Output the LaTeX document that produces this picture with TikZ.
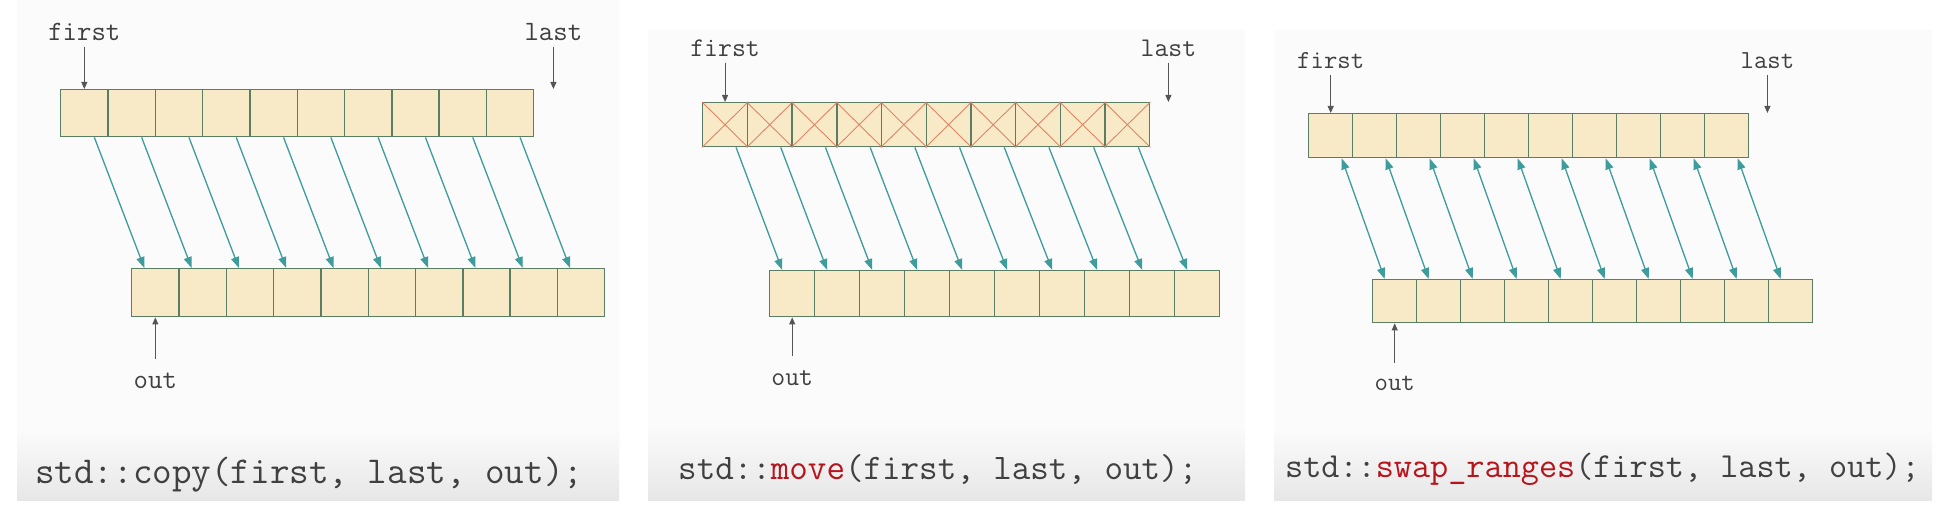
\documentclass[tikz,border=0pt]{standalone}
\usepackage{xcolor}
\usepackage{tikz}
\usetikzlibrary{arrows.meta,positioning}
\definecolor{panelbg}{HTML}{FAFBFA}
\definecolor{capgrey}{HTML}{E7E7E7}
\definecolor{cellfill}{HTML}{F8EAC7}
\definecolor{celledge}{HTML}{5A7D63}
\definecolor{crossred}{HTML}{E08468}
\definecolor{arrowteal}{HTML}{3E9C9C}
\definecolor{ptrgrey}{HTML}{555555}
\definecolor{txtgrey}{HTML}{404040}
\definecolor{fnred}{HTML}{B8141C}
\newcommand{\fn}[1]{\textcolor{fnred}{#1}}
\newcommand{\lblsize}[1]{\ttfamily\fontsize{#1}{#1}\selectfont}

\begin{document}
\begin{tikzpicture}[
  x=1pt,y=-1pt,
  font=\ttfamily,
  cell/.style={draw=celledge,fill=cellfill,line width=1.4pt,inner sep=0pt,anchor=north west},
  lbl/.style={text=txtgrey,inner sep=6pt},
  ptr/.style={-{Triangle[length=7pt,width=6pt]},ptrgrey,line width=1pt},
  cp/.style={-{Triangle[length=11pt,width=8pt]},arrowteal,line width=1.3pt},
  sw/.style={cp,{Triangle[length=11pt,width=8pt]}-{Triangle[length=11pt,width=8pt]}},
  xmark/.style={crossred,line width=0.9pt},
  captxt/.style={anchor=base west,text=txtgrey,inner sep=0pt}
]
\useasboundingbox (0,0) rectangle (1945,513);

% panel backgrounds with caption bars
\fill[panelbg] (17,0) rectangle (619,430);
\shade[top color=panelbg,bottom color=capgrey] (17,430) rectangle (619,500);
\fill[panelbg] (648,30) rectangle (1245,425);
\shade[top color=panelbg,bottom color=capgrey] (648,425) rectangle (1245,500);
\fill[panelbg] (1274,30) rectangle (1932,430);
\shade[top color=panelbg,bottom color=capgrey] (1274,430) rectangle (1932,500);

% copy
\foreach \i in {0,...,9} {
  \node[cell,minimum width=47.3pt,minimum height=47pt] (a1-\i) at (60+\i*47.3,89) {};
  \node[cell,minimum width=47.3pt,minimum height=48pt] (b1-\i) at (131+\i*47.3,268) {};
}
\foreach \i in {0,...,9}
  \draw[cp] ([xshift=10pt]a1-\i.south) -- ([xshift=-11pt]b1-\i.north);
\coordinate (end1) at ([xshift=19pt]a1-9.north east);
\node[lbl,font=\lblsize{28}] (first1) at (a1-0 |- 0,32) {first};
\node[lbl,font=\lblsize{28}] (last1) at (end1 |- 0,32) {last};
\node[lbl,outer sep=8pt,font=\lblsize{28}] (out1) at (b1-0 |- 0,381) {out};
\draw[ptr] (first1) -- (a1-0);
\draw[ptr] (last1) -- (end1);
\draw[ptr] (out1) -- (b1-0);
\node[captxt,font=\lblsize{38}] (cap1) at (35,483) {std::copy(first, last, out);};

% move
\foreach \i in {0,...,9} {
  \node[cell,minimum width=44.7pt,minimum height=44pt] (a2-\i) at (702+\i*44.7,102) {};
  \node[cell,minimum width=45pt,minimum height=46pt] (b2-\i) at (769+\i*45,270) {};
  \draw[xmark] (a2-\i.north west) -- (a2-\i.south east)
               (a2-\i.south west) -- (a2-\i.north east);
}
\foreach \i in {0,...,9}
  \draw[cp] ([xshift=11pt]a2-\i.south) -- ([xshift=-10pt]b2-\i.north);
\coordinate (end2) at ([xshift=18pt]a2-9.north east);
\node[lbl,font=\lblsize{27}] (first2) at (a2-0 |- 0,48) {first};
\node[lbl,font=\lblsize{27}] (last2) at (end2 |- 0,48) {last};
\node[lbl,outer sep=8pt,font=\lblsize{27}] (out2) at (b2-0 |- 0,378) {out};
\draw[ptr] (first2) -- (a2-0);
\draw[ptr] (last2) -- (end2);
\draw[ptr] (out2) -- (b2-0);
\node[captxt,font=\lblsize{36}] (cap2) at (678,479) {std::\fn{move}(first, last, out);};

% swap_ranges
\foreach \i in {0,...,9} {
  \node[cell,minimum width=44pt,minimum height=44pt] (a3-\i) at (1308+\i*44,113) {};
  \node[cell,minimum width=44pt,minimum height=43pt] (b3-\i) at (1372+\i*44,279) {};
}
\foreach \i in {0,...,9}
  \draw[sw] ([xshift=11pt]a3-\i.south) -- ([xshift=-10pt]b3-\i.north);
\coordinate (end3) at ([xshift=18pt]a3-9.north east);
\node[lbl,font=\lblsize{26}] (first3) at (a3-0 |- 0,61) {first};
\node[lbl,font=\lblsize{26}] (last3) at (end3 |- 0,61) {last};
\node[lbl,outer sep=7pt,font=\lblsize{26}] (out3) at (b3-0 |- 0,383) {out};
\draw[ptr] (first3) -- (a3-0);
\draw[ptr] (last3) -- (end3);
\draw[ptr] (out3) -- (b3-0);
\node[captxt,font=\lblsize{35.2}] (cap3) at (1285,477) {std::\fn{swap\_ranges}(first, last, out);};
\end{tikzpicture}
\end{document}
